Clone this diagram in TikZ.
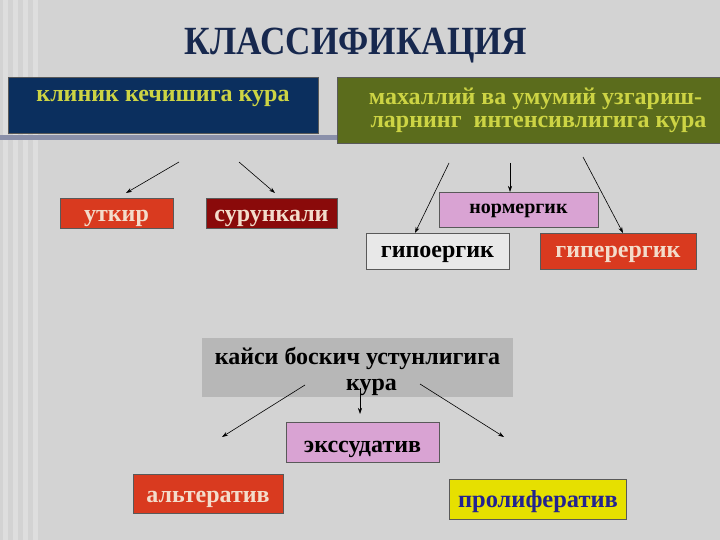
\documentclass[tikz,border=0pt]{standalone}
\usepackage{fontspec}
\setmainfont{Liberation Serif}
\newfontfamily\titlefont[FakeStretch=0.88]{Liberation Serif}
\usepackage{xcolor}
\usetikzlibrary{arrows.meta}

\definecolor{bgGray}{HTML}{D3D3D3}
\definecolor{titleNavy}{HTML}{17284E}
\definecolor{navyBox}{HTML}{0B2F5E}
\definecolor{oliveBox}{HTML}{5B6C1C}
\definecolor{yellowText}{HTML}{CDD444}
\definecolor{redBox}{HTML}{D93A1F}
\definecolor{darkRedBox}{HTML}{8A0A0A}
\definecolor{lilacBox}{HTML}{D9A3D3}
\definecolor{paleBox}{HTML}{E8E8E8}
\definecolor{grayBox}{HTML}{B7B7B7}
\definecolor{yellowBox}{HTML}{E6E000}
\definecolor{blueText}{HTML}{23238F}
\definecolor{peachText}{HTML}{F3DCCB}
\definecolor{barGray}{HTML}{8A90AA}

\begin{document}
\begin{tikzpicture}[x=1pt, y=-1pt,
    box/.style={draw=black!65, line width=0.6pt, inner sep=0pt, text height=11pt, text depth=0pt,
                font=\bfseries\fontsize{24}{26}\selectfont},
    arr/.style={-{Stealth[length=6pt, width=4pt]}, line width=0.6pt, black}]
    % Background
    \fill[bgGray] (0,0) rectangle (720,540);
    \foreach \x in {3,13,23,33} \fill[white, opacity=0.25] (\x,0) rectangle ++(5,540);
    \useasboundingbox (0,0) rectangle (720,540);

    % Title
    \node[font=\titlefont\bfseries\fontsize{40}{42}\selectfont, text=titleNavy, anchor=base] (title) at (356,55) {КЛАССИФИКАЦИЯ};

    % Top boxes
    \fill[barGray] (0,135) rectangle (337,140);
    \node[box, fill=navyBox, text=yellowText, minimum width=310pt, text height=25pt, text depth=31pt] (clinic) at (163,105) {клиник кечишига кура};
    \node[box, fill=oliveBox, text=yellowText, minimum width=383pt, minimum height=66pt, align=center,
          text height=, text depth=, font=\bfseries\fontsize{24}{23}\selectfont] (local) at (528.5,110)
          {\hspace*{14pt}махаллий ва умумий узгариш-\\\hspace*{20pt}ларнинг\ \ интенсивлигига кура};

    % Clinical course
    \node[box, fill=redBox, text=peachText, minimum width=113pt, minimum height=30pt, text height=18pt] (acute) at (116.5,213) {уткир};
    \node[box, fill=darkRedBox, text=peachText, minimum width=131pt, minimum height=30pt, text height=18pt] (chronic) at (271.5,213) {сурункали};
    \coordinate (c1) at (179,162);
    \coordinate (c1e) at (126,193);
    \coordinate (c2) at (239,162);
    \coordinate (c2e) at (275,193);
    \draw[arr] (c1) -- (c1e);
    \draw[arr] (c2) -- (c2e);

    % Intensity
    \node[box, fill=lilacBox, text=black, minimum width=159pt, minimum height=35pt, text height=9pt,
          font=\bfseries\fontsize{20}{22}\selectfont] (normergic) at (518.5,209.5) {нормергик};
    \node[box, fill=paleBox, text=black, minimum width=143pt, minimum height=36pt, text height=14pt] (hypoergic) at (437.5,251) {гипоергик};
    \node[box, fill=redBox, text=peachText, minimum width=156pt, minimum height=36pt, text height=12pt] (hyperergic) at (618,251) {гиперергик};
    \coordinate (i1) at (449,163);
    \coordinate (i1e) at (415,233);
    \coordinate (i2) at (510,163);
    \coordinate (i2e) at (510,192);
    \coordinate (i3) at (583,157);
    \coordinate (i3e) at (623,233);
    \draw[arr] (i1) -- (i1e);
    \draw[arr] (i2) -- (i2e);
    \draw[arr] (i3) -- (i3e);

    % Predominant stage
    \node[fill=grayBox, inner sep=0pt, minimum width=311pt, minimum height=59pt, align=center,
          font=\bfseries\fontsize{24}{26}\selectfont] (stage) at (357.5,367.5)
          {\rule{0pt}{25pt}кайси боскич устунлигига\\\hspace*{28pt}кура};
    \node[box, fill=lilacBox, text=black, minimum width=153pt, minimum height=40pt, text height=19pt] (exudative) at (362.5,442.5) {экссудатив};
    \node[box, fill=redBox, text=peachText, minimum width=150pt, minimum height=39pt, text height=17pt] (alterative) at (208,493.5) {альтератив};
    \node[box, fill=yellowBox, text=blueText, minimum width=177pt, minimum height=40pt, text height=16pt,
          font=\bfseries\fontsize{24.5}{26}\selectfont] (proliferative) at (538,499) {пролифератив};
    \coordinate (s1) at (305,385);
    \coordinate (s1e) at (222,437);
    \coordinate (s2) at (360,388);
    \coordinate (s2e) at (360,414);
    \coordinate (s3) at (420,384);
    \coordinate (s3e) at (504,437);
    \draw[arr] (s1) -- (s1e);
    \draw[arr] (s2) -- (s2e);
    \draw[arr] (s3) -- (s3e);
\end{tikzpicture}
\end{document}
